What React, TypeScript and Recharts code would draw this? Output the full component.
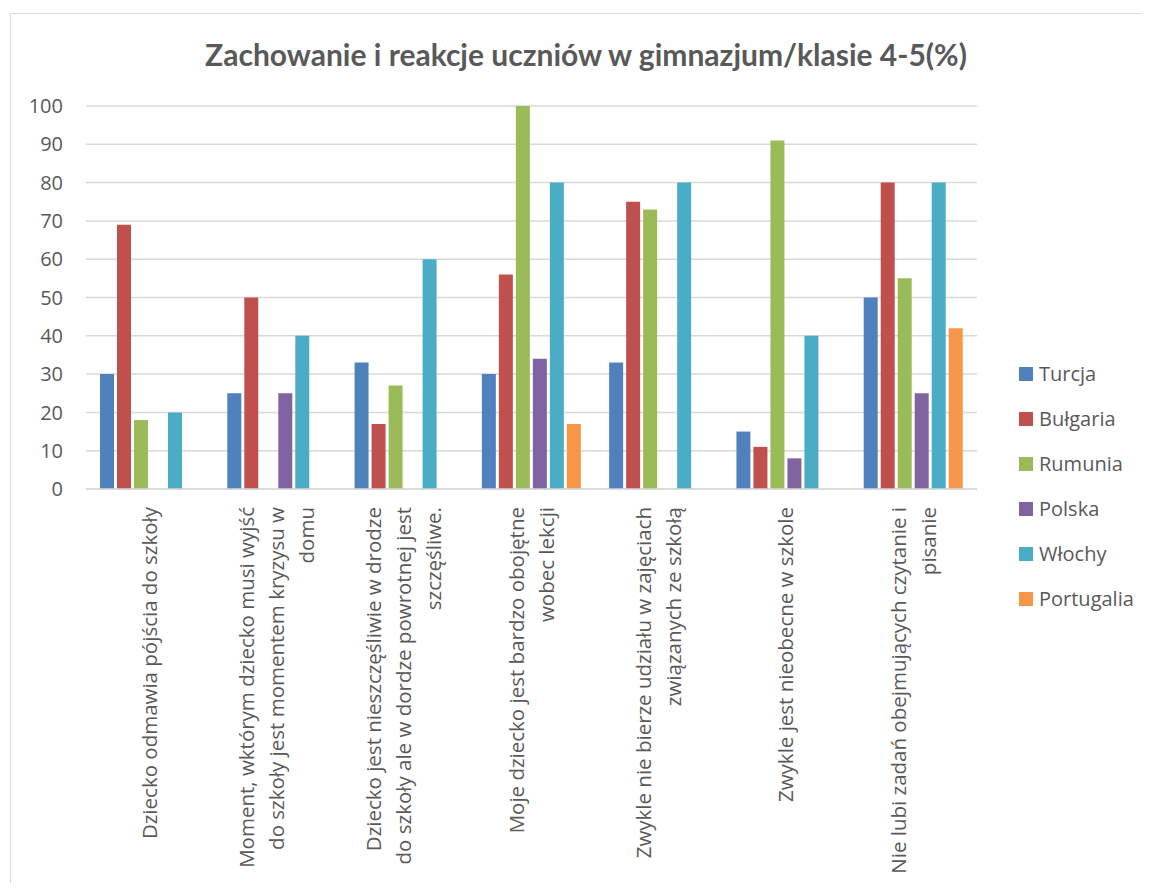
import { BarChart, Bar, XAxis, YAxis, CartesianGrid, Legend } from 'recharts'

// category labels, line breaks as in the original
const categories = [
  'Dziecko odmawia pójścia do szkoły',
  'Moment, wktórym dziecko musi wyjść\ndo szkoły jest momentem kryzysu w\ndomu',
  'Dziecko jest nieszczęśliwie w drodze\ndo szkoły ale w dordze powrotnej jest\nszczęśliwe.',
  'Moje dziecko jest bardzo obojętne\nwobec lekcji',
  'Zwykle nie bierze udziału w zajęciach\nzwiązanych ze szkołą',
  'Zwykle jest nieobecne w szkole',
  'Nie lubi zadań obejmujących czytanie i\npisanie',
]

const turcja = [30, 25, 33, 30, 33, 15, 50]
const bulgaria = [69, 50, 17, 56, 75, 11, 80]
const rumunia = [18, 0, 27, 100, 73, 91, 55]
const polska = [0, 25, 0, 34, 0, 8, 25]
const wlochy = [20, 40, 60, 80, 80, 40, 80]
const portugalia = [0, 0, 0, 17, 0, 0, 42]

const yTicks = [0, 10, 20, 30, 40, 50, 60, 70, 80, 90, 100]

const series = [
  { key: 'turcja', name: 'Turcja', values: turcja, color: '#4F81BD' },
  { key: 'bulgaria', name: 'Bułgaria', values: bulgaria, color: '#C0504D' },
  { key: 'rumunia', name: 'Rumunia', values: rumunia, color: '#9BBB59' },
  { key: 'polska', name: 'Polska', values: polska, color: '#8064A2' },
  { key: 'wlochy', name: 'Włochy', values: wlochy, color: '#4BACC6' },
  { key: 'portugalia', name: 'Portugalia', values: portugalia, color: '#F79646' },
]

const data = categories.map((name, i) => {
  const row: Record<string, any> = { name }
  series.forEach((s) => (row[s.key] = s.values[i]))
  return row
})

const FONT = '"Open Sans", sans-serif'
const TEXT = '#595959'
const GRID = '#d9d9d9'

// rotated, multi-line category label
function CategoryTick({ x, y, payload }: any) {
  const lines = String(payload.value).split('\n')
  const lh = 30
  return (
    <g transform={`translate(${x},${y})`}>
      <text transform="rotate(-90)" textAnchor="end" fill={TEXT} fontSize={20.5} fontFamily={FONT}>
        {lines.map((l, i) => (
          <tspan key={i} x={-16} y={(i - (lines.length - 1) / 2) * lh} dy="0.35em">
            {l}
          </tspan>
        ))}
      </text>
    </g>
  )
}

// keep the series order (recharts sorts legend items by name otherwise)
function LegendBox({ payload }: any) {
  const order = series.map((s) => s.name)
  const items = [...(payload || [])].sort((a: any, b: any) => order.indexOf(a.value) - order.indexOf(b.value))
  return (
    <div style={{ fontFamily: FONT, fontSize: 20, color: TEXT }}>
      {items.map((p: any) => (
        <div key={p.value} style={{ height: 45, display: 'flex', alignItems: 'center' }}>
          <span style={{ width: 14, height: 14, background: p.color, marginRight: 6, display: 'inline-block' }} />
          {p.value}
        </div>
      ))}
    </div>
  )
}

export default function App() {
  return (
    <div style={{ position: 'relative', width: 1134, height: 875, overflow: 'hidden', background: '#fff' }}>
      <div
        style={{
          position: 'absolute', left: 2, top: 5, width: 2000, height: 2000,
          borderLeft: `1.5px solid ${GRID}`, borderTop: `1.5px solid ${GRID}`,
        }}
      />
      <div
        style={{
          position: 'absolute', left: 0, top: 28, width: 1156, textAlign: 'center', lineHeight: '36px',
          fontFamily: 'Lato, sans-serif', fontWeight: 700, fontSize: 30, color: TEXT,
        }}
      >
        Zachowanie i reakcje uczniów w gimnazjum/klasie 4-5(%)
      </div>
      <BarChart
        width={1134}
        height={875}
        data={data}
        margin={{ top: 98, right: 165, left: 0, bottom: 0 }}
        barSize={14}
        barGap={3}
      >
        <CartesianGrid vertical={false} stroke={GRID} strokeWidth={1.5} />
        <XAxis
          dataKey="name"
          height={394}
          interval={0}
          tickLine={false}
          tickSize={0}
          axisLine={{ stroke: GRID, strokeWidth: 1.5 }}
          tick={<CategoryTick />}
        />
        <YAxis
          width={78}
          domain={[0, 100]}
          ticks={yTicks}
          axisLine={false}
          tickLine={false}
          tickSize={0}
          tickMargin={23}
          tick={{ fill: TEXT, fontSize: 20, fontFamily: FONT }}
        />
        <Legend
          layout="vertical"
          align="center"
          verticalAlign="middle"
          content={<LegendBox />}
          wrapperStyle={{ left: 1011, top: 343, width: 130 }}
        />
        {series.map((s) => (
          <Bar key={s.key} dataKey={s.key} name={s.name} fill={s.color} isAnimationActive={false} />
        ))}
      </BarChart>
    </div>
  )
}
